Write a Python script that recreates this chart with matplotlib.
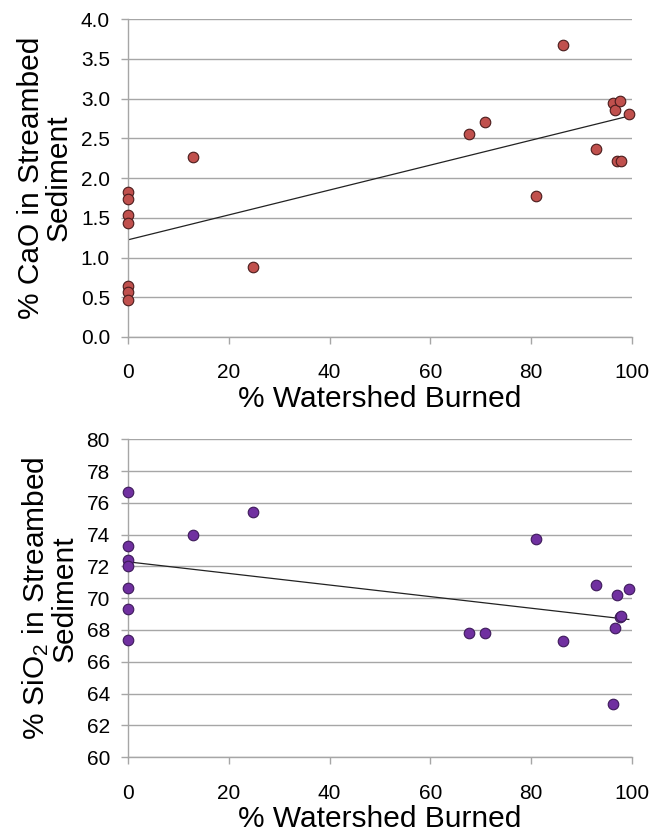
import numpy as np
import matplotlib.pyplot as plt

plt.rcParams['font.family'] = ['Liberation Sans', 'DejaVu Sans']
plt.rcParams['mathtext.fontset'] = 'custom'
plt.rcParams['mathtext.rm'] = 'Liberation Sans'
plt.rcParams['mathtext.it'] = 'Liberation Sans:italic'

# percent of each watershed burned, one entry per sample
burned = [0, 0, 0, 0, 0, 0, 0,
          13.0, 24.8, 67.7, 70.9, 81.0, 86.3, 92.8,
          96.3, 96.6, 97.1, 97.6, 97.8, 99.4]

cao = [1.82, 1.74, 1.53, 1.44, 0.64, 0.56, 0.47,
       2.26, 0.88, 2.55, 2.71, 1.78, 3.68, 2.37,
       2.95, 2.86, 2.22, 2.97, 2.22, 2.80]

sio2 = [76.7, 73.3, 72.4, 72.0, 70.65, 69.33, 67.36,
        74.0, 75.4, 67.84, 67.82, 73.7, 67.3, 70.8,
        63.35, 68.1, 70.23, 68.8, 68.85, 70.6]

x_ticks = [0, 20, 40, 60, 80, 100]
cao_ticks = np.arange(0, 4.01, 0.5)
sio2_ticks = np.arange(60, 80.1, 2)

GRID = '#a6a6a6'


def panel(ax, y, color, edge, ylabel, yticks, fmt):
    x = np.array(burned)
    y = np.array(y)
    ax.set_axisbelow(True)
    ax.yaxis.grid(True, color=GRID, linewidth=1)
    ax.scatter(x, y, s=58, color=color, edgecolor=edge, linewidth=0.8,
               zorder=3, clip_on=False)

    # linear trendline over the data range
    m, b = np.polyfit(x, y, 1)
    xs = np.array([x.min(), x.max()])
    ax.plot(xs, m * xs + b, color='#222222', linewidth=0.9, zorder=2)

    ax.set_xlim(0, 100)
    ax.set_ylim(yticks[0], yticks[-1])
    ax.set_xticks(x_ticks)
    ax.set_yticks(yticks)
    ax.set_yticklabels([fmt.format(v) for v in yticks])
    ax.set_xlabel('% Watershed Burned', fontsize=21.5, labelpad=2)
    ax.set_ylabel(ylabel, fontsize=21.5, linespacing=0.95, labelpad=6)

    for side in ('top', 'right'):
        ax.spines[side].set_visible(False)
    for side in ('left', 'bottom'):
        ax.spines[side].set_color(GRID)
        ax.spines[side].set_linewidth(1)
    ax.tick_params(axis='both', colors=GRID, labelcolor='black', labelsize=15,
                   length=5, width=1)
    ax.tick_params(axis='x', pad=14)
    ax.tick_params(axis='y', pad=8)


fig = plt.figure(figsize=(6.7, 8.32), dpi=100)
ax1 = fig.add_axes([0.191, 0.595, 0.752, 0.382])
ax2 = fig.add_axes([0.191, 0.090, 0.752, 0.382])

panel(ax1, cao, '#c0504d', '#4a1c1c', '% CaO in Streambed\nSediment',
      cao_ticks, '{:.1f}')
panel(ax2, sio2, '#7030a0', '#3d1a5a', '% SiO$_2$ in Streambed\nSediment',
      sio2_ticks, '{:.0f}')

fig.savefig('out.png', dpi=100, facecolor='white')
